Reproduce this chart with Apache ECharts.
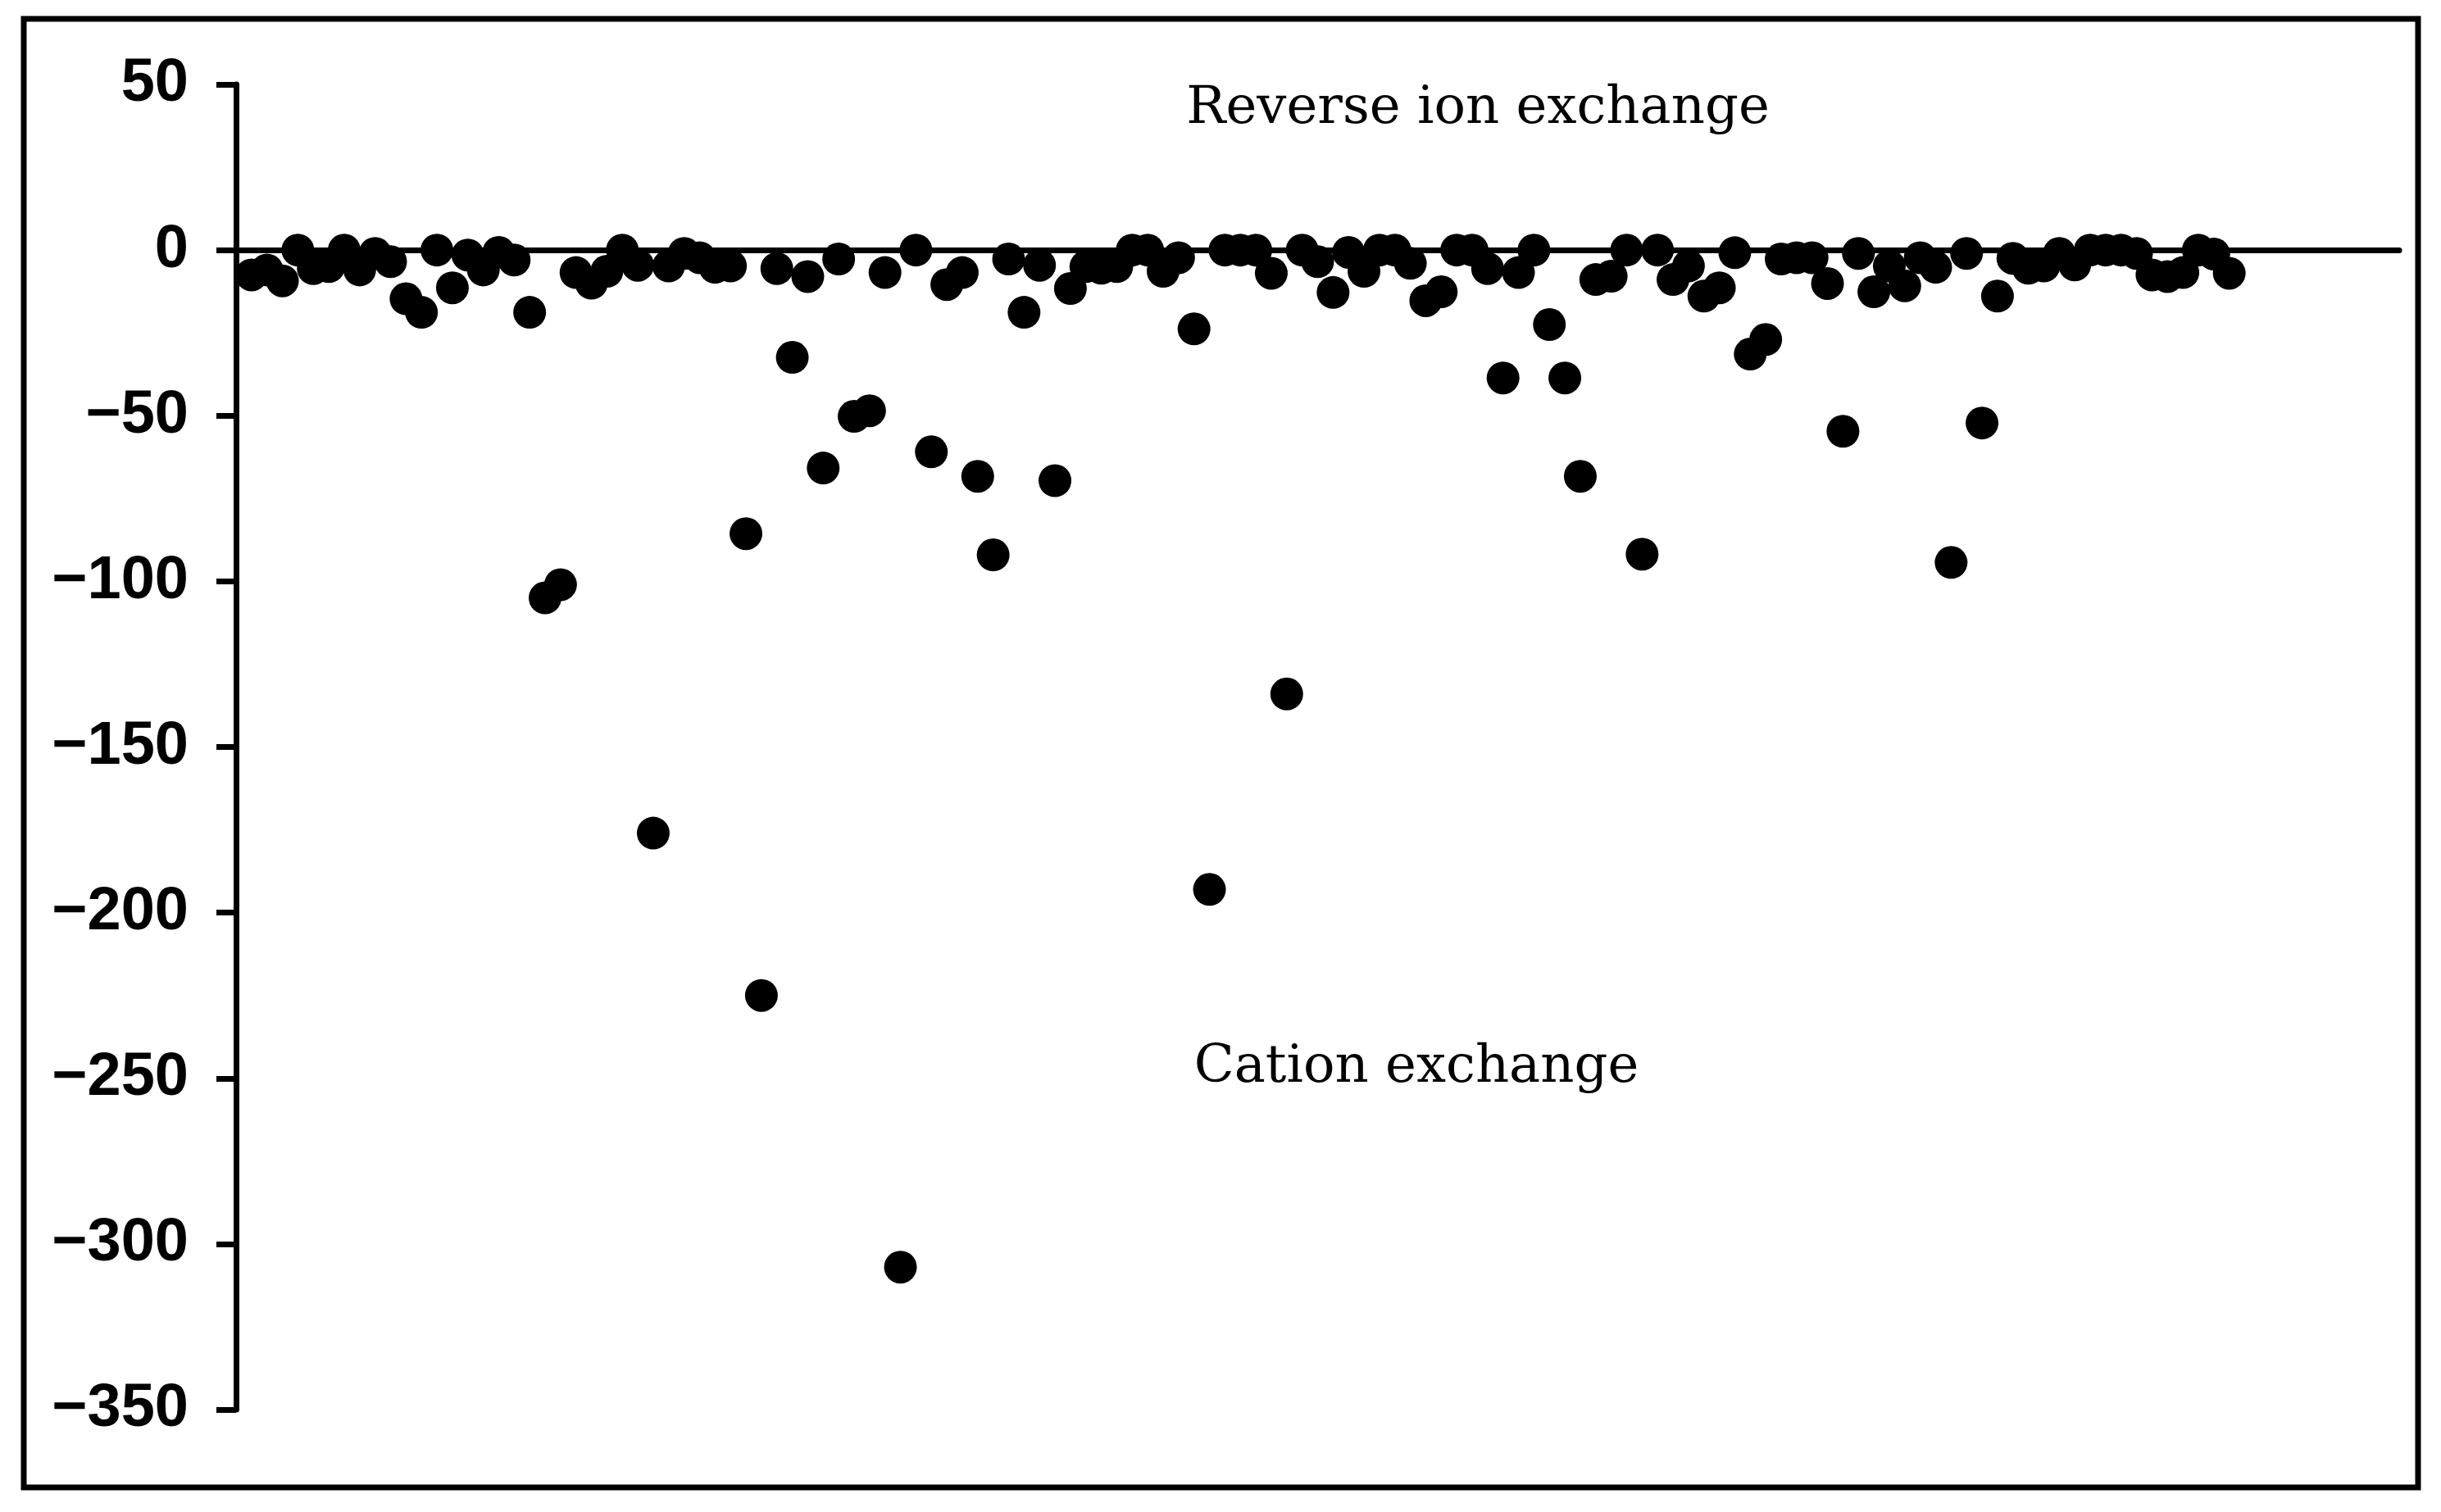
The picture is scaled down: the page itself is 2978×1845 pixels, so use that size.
<!DOCTYPE html>
<html>
<head>
<meta charset="utf-8">
<script src="https://cdn.jsdelivr.net/npm/echarts@6/dist/echarts.min.js"></script>
<style>
html,body{margin:0;padding:0;background:#fff;}
#chart{width:2978px;height:1845px;}
</style>
</head>
<body>
<div id="chart"></div>
<script>
// Values of the index (one per sample, in order along the x axis)
const indexValues = [
  -7.5, -6, -9.3, 0, -5.6, -5, 0, -6, -1, -3.5,
  -14.7, -18.8, 0, -11.4, -1.5, -6, -0.7, -3, -18.8, -105,
  -101, -6.8, -10, -6.4, 0, -4.6, -176, -4.8, -1, -2.3,
  -5.2, -4.8, -85.6, -225, -5.6, -32.4, -8, -65.8, -2.7, -50.2,
  -48.5, -6.8, -307, 0, -60.9, -10.4, -6.8, -68.3, -92, -2.7,
  -18.8, -4.6, -69.6, -11.6, -5, -5.5, -5, 0, 0, -6.4,
  -2.3, -23.8, -193, 0, 0, 0, -7, -134, 0, -3.5,
  -12.8, -0.7, -6.4, 0, 0, -4, -15.3, -12.6, 0, 0,
  -5.6, -38.6, -6.8, 0, -22.5, -38.6, -68.3, -8.9, -7.9, 0,
  -91.8, 0, -8.9, -4.8, -13.9, -11.4, -0.8, -31.4, -27, -2.7,
  -2.3, -2.3, -10.1, -54.7, -1, -12.6, -4.8, -10.8, -2.3, -5.2,
  -94.3, -1, -52.2, -13.9, -2.5, -5.5, -4.8, -1, -4.5, 0,
  0, 0, -1, -7.5, -8, -6.8, 0, -1.2, -7
];
const yTicks = [50, 0, -50, -100, -150, -200, -250, -300, -350];
const annotations = ['Reverse ion exchange', 'Cation exchange'];

const points = indexValues.map((v, i) => [i + 1, v]);

const chart = echarts.init(document.getElementById('chart'));
chart.setOption({
  backgroundColor: '#ffffff',
  animation: false,
  grid: { left: 288, right: 51, top: 103, bottom: 125, outerBoundsMode: 'none' },
  xAxis: {
    type: 'value', min: 0, max: 140,
    axisLine: { show: true, onZero: true, lineStyle: { color: '#000', width: 7 } },
    axisTick: { show: false }, axisLabel: { show: false }, splitLine: { show: false }
  },
  yAxis: {
    type: 'value', min: yTicks[yTicks.length - 1], max: yTicks[0], interval: 50,
    axisLine: { show: true, onZero: false, lineStyle: { color: '#000', width: 7 } },
    axisTick: { show: true, inside: false, length: 24, lineStyle: { color: '#000', width: 7 } },
    splitLine: { show: false },
    axisLabel: {
      margin: 58, color: '#000', fontFamily: '"Liberation Sans", Arial, sans-serif',
      fontWeight: 'bold', fontSize: 74,
      formatter: v => String(v).replace('-', '\u2212')
    }
  },
  series: [{
    type: 'scatter', data: points, symbol: 'circle', symbolSize: 40,
    itemStyle: { color: '#000', opacity: 1 }, z: 3
  }],
  graphic: [
    { type: 'rect', shape: { x: 29, y: 23, width: 2921, height: 1792 },
      style: { fill: 'none', stroke: '#000', lineWidth: 7 }, z: 10 },
    { type: 'text', x: 1803, y: 133,
      style: { text: annotations[0], font: '64px "DejaVu Serif", serif', fill: '#000',
               textAlign: 'center', textVerticalAlign: 'middle' }, z: 10 },
    { type: 'text', x: 1728, y: 1303,
      style: { text: annotations[1], font: '64px "DejaVu Serif", serif', fill: '#000',
               textAlign: 'center', textVerticalAlign: 'middle' }, z: 10 }
  ]
});
</script>
</body>
</html>
